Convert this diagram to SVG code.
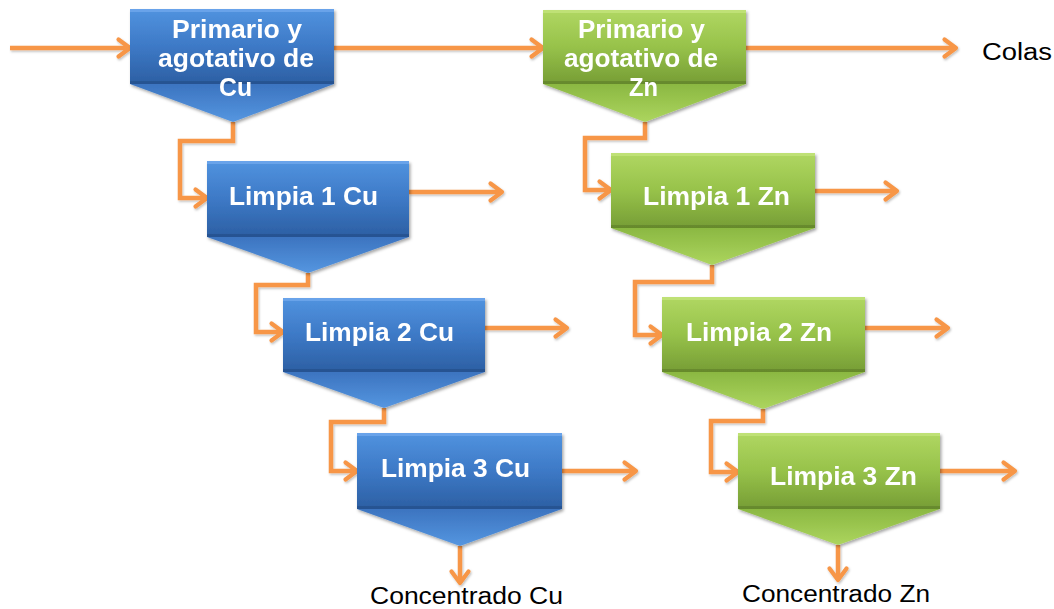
<svg xmlns="http://www.w3.org/2000/svg" width="1054" height="609" viewBox="0 0 1054 609">
<defs>
  <linearGradient id="gBlue" x1="0" y1="0" x2="0" y2="1">
    <stop offset="0" stop-color="#5193df"/>
    <stop offset="0.5" stop-color="#3d79c6"/>
    <stop offset="1" stop-color="#2c5fa3"/>
  </linearGradient>
  <linearGradient id="gBlueTri" x1="0" y1="0" x2="0" y2="1">
    <stop offset="0" stop-color="#3c74c0"/>
    <stop offset="1" stop-color="#5596e0"/>
  </linearGradient>
  <linearGradient id="gGreen" x1="0" y1="0" x2="0" y2="1">
    <stop offset="0" stop-color="#b0d762"/>
    <stop offset="0.5" stop-color="#97c24a"/>
    <stop offset="1" stop-color="#769d35"/>
  </linearGradient>
  <linearGradient id="gGreenTri" x1="0" y1="0" x2="0" y2="1">
    <stop offset="0" stop-color="#8bb842"/>
    <stop offset="1" stop-color="#acd55e"/>
  </linearGradient>
  <filter id="sh" x="-10%" y="-10%" width="125%" height="130%">
    <feDropShadow dx="1.5" dy="2" stdDeviation="1.8" flood-color="#000" flood-opacity="0.35"/>
  </filter>
  <filter id="lsh" x="-5%" y="-20%" width="110%" height="160%">
    <feDropShadow dx="1" dy="1.5" stdDeviation="1" flood-color="#000" flood-opacity="0.25"/>
  </filter>
  <marker id="arr" viewBox="0 0 16 20" refX="13" refY="10" markerWidth="16" markerHeight="20" markerUnits="userSpaceOnUse" orient="auto" overflow="visible">
    <path d="M1.5,1.5 L13,10 L1.5,18.5" fill="none" stroke="#f79646" stroke-width="4.2" stroke-linecap="round" stroke-linejoin="round"/>
  </marker>
</defs>
<style>
  .tb { fill: url(#gBlueTri); }
  .rb { fill: url(#gBlue); }
  .tg { fill: url(#gGreenTri); }
  .rg { fill: url(#gGreen); }
  .hiB { fill: #6fa8ec; opacity: 0.8; }
  .hiG { fill: #c3e37c; opacity: 0.8; }
  .loB { fill: #244f8a; opacity: 0.7; }
  .loG { fill: #5f822a; opacity: 0.7; }
  .lbl { font-family: "Liberation Sans", Arial, sans-serif; font-weight: bold; font-size: 25px; fill: #ffffff; }
  .out { font-family: "Liberation Sans", Arial, sans-serif; font-size: 23px; fill: #000000; }
  .c { fill: none; stroke: #f79646; stroke-width: 4.5; stroke-linejoin: miter; marker-end: url(#arr); }
</style>
<rect width="1054" height="609" fill="#ffffff"/>

<g id="connectors" filter="url(#lsh)">
  <path class="c" d="M10,48 H130"/>
  <path class="c" d="M334,48 H543"/>
  <path class="c" d="M746,48 H956"/>
  <path class="c" d="M233,122 V141 H180 V198 H207"/>
  <path class="c" d="M409,192 H502"/>
  <path class="c" d="M308,273 V285 H256 V332 H283"/>
  <path class="c" d="M485,328 H567"/>
  <path class="c" d="M384,408 V422 H331 V471 H357"/>
  <path class="c" d="M562,471 H636"/>
  <path class="c" d="M460,546 V583"/>
  <path class="c" d="M645,122 V138 H585 V190 H611"/>
  <path class="c" d="M815,191 H897"/>
  <path class="c" d="M712,265 V282 H635 V335 H662"/>
  <path class="c" d="M865,328 H948"/>
  <path class="c" d="M763,409 V421 H711 V472 H738"/>
  <path class="c" d="M940,471 H1015"/>
  <path class="c" d="M838,545 V580"/>
</g>

<g id="node-primario-cu" filter="url(#sh)">
  <polygon class="tb" points="130,84 334,84 233,122"/>
  <rect class="rb" x="130" y="9" width="204" height="75"/>
  <rect class="hiB" x="130" y="9" width="204" height="3"/>
  <rect class="loB" x="130" y="81" width="204" height="3"/>
  <text class="lbl" x="237" y="38" text-anchor="middle" textLength="130" lengthAdjust="spacingAndGlyphs">Primario y</text>
  <text class="lbl" x="236" y="67" text-anchor="middle" textLength="156" lengthAdjust="spacingAndGlyphs">agotativo de</text>
  <text class="lbl" x="235.5" y="96" text-anchor="middle" textLength="33" lengthAdjust="spacingAndGlyphs">Cu</text>
</g>

<g id="node-limpia1-cu" filter="url(#sh)">
  <polygon class="tb" points="207,237 409,237 308,273"/>
  <rect class="rb" x="207" y="161" width="202" height="76"/>
  <rect class="hiB" x="207" y="161" width="202" height="3"/>
  <rect class="loB" x="207" y="234" width="202" height="3"/>
  <text class="lbl" x="303.5" y="205" text-anchor="middle" textLength="149" lengthAdjust="spacingAndGlyphs">Limpia 1 Cu</text>
</g>

<g id="node-limpia2-cu" filter="url(#sh)">
  <polygon class="tb" points="283,372 485,372 384,408"/>
  <rect class="rb" x="283" y="298" width="202" height="74"/>
  <rect class="hiB" x="283" y="298" width="202" height="3"/>
  <rect class="loB" x="283" y="369" width="202" height="3"/>
  <text class="lbl" x="379.5" y="341" text-anchor="middle" textLength="149" lengthAdjust="spacingAndGlyphs">Limpia 2 Cu</text>
</g>

<g id="node-limpia3-cu" filter="url(#sh)">
  <polygon class="tb" points="357,509 562,509 460,546"/>
  <rect class="rb" x="357" y="433" width="205" height="76"/>
  <rect class="hiB" x="357" y="433" width="205" height="3"/>
  <rect class="loB" x="357" y="506" width="205" height="3"/>
  <text class="lbl" x="455.5" y="477" text-anchor="middle" textLength="149" lengthAdjust="spacingAndGlyphs">Limpia 3 Cu</text>
</g>

<g id="node-primario-zn" filter="url(#sh)">
  <polygon class="tg" points="543,84 746,84 645,122"/>
  <rect class="rg" x="543" y="10" width="203" height="74"/>
  <rect class="hiG" x="543" y="10" width="203" height="3"/>
  <rect class="loG" x="543" y="81" width="203" height="3"/>
  <text class="lbl" x="641.5" y="38" text-anchor="middle" textLength="127" lengthAdjust="spacingAndGlyphs">Primario y</text>
  <text class="lbl" x="641" y="67" text-anchor="middle" textLength="154" lengthAdjust="spacingAndGlyphs">agotativo de</text>
  <text class="lbl" x="643.5" y="96" text-anchor="middle" textLength="29" lengthAdjust="spacingAndGlyphs">Zn</text>
</g>

<g id="node-limpia1-zn" filter="url(#sh)">
  <polygon class="tg" points="611,228 815,228 712,265"/>
  <rect class="rg" x="611" y="153" width="204" height="75"/>
  <rect class="hiG" x="611" y="153" width="204" height="3"/>
  <rect class="loG" x="611" y="225" width="204" height="3"/>
  <text class="lbl" x="716.5" y="205" text-anchor="middle" textLength="147" lengthAdjust="spacingAndGlyphs">Limpia 1 Zn</text>
</g>

<g id="node-limpia2-zn" filter="url(#sh)">
  <polygon class="tg" points="662,372 865,372 763,409"/>
  <rect class="rg" x="662" y="297" width="203" height="75"/>
  <rect class="hiG" x="662" y="297" width="203" height="3"/>
  <rect class="loG" x="662" y="369" width="203" height="3"/>
  <text class="lbl" x="759" y="341" text-anchor="middle" textLength="146" lengthAdjust="spacingAndGlyphs">Limpia 2 Zn</text>
</g>

<g id="node-limpia3-zn" filter="url(#sh)">
  <polygon class="tg" points="738,509 940,509 838,545"/>
  <rect class="rg" x="738" y="433" width="202" height="76"/>
  <rect class="hiG" x="738" y="433" width="202" height="3"/>
  <rect class="loG" x="738" y="506" width="202" height="3"/>
  <text class="lbl" x="843.5" y="485" text-anchor="middle" textLength="147" lengthAdjust="spacingAndGlyphs">Limpia 3 Zn</text>
</g>

<g id="labels">
  <text class="out" x="982" y="60" textLength="70" lengthAdjust="spacingAndGlyphs">Colas</text>
  <text class="out" x="370" y="604" textLength="193" lengthAdjust="spacingAndGlyphs">Concentrado Cu</text>
  <text class="out" x="742" y="602" textLength="188" lengthAdjust="spacingAndGlyphs">Concentrado Zn</text>
</g>
</svg>
